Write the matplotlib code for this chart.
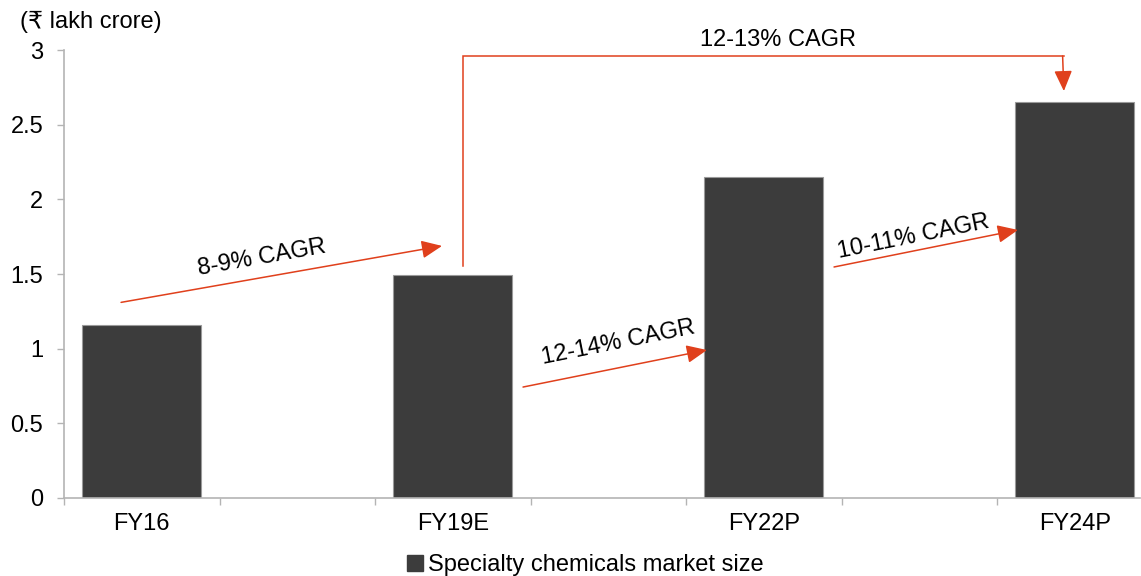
import matplotlib
matplotlib.use("Agg")
import matplotlib.pyplot as plt
from matplotlib.patches import FancyArrowPatch
from matplotlib.lines import Line2D

plt.rcParams['font.family'] = ['Liberation Sans', 'DejaVu Sans']

categories = ["FY16", "", "FY19E", "", "FY22P", "", "FY24P"]
values = [1.16, None, 1.49, None, 2.15, None, 2.65]
y_ticks = [0, 0.5, 1, 1.5, 2, 2.5, 3]
y_tick_labels = ["0", "0.5", "1", "1.5", "2", "2.5", "3"]
cagr_labels = ["8-9% CAGR", "12-14% CAGR", "10-11% CAGR", "12-13% CAGR"]
series_name = "Specialty chemicals market size"
unit_label = "(\u20b9 lakh crore)"

FS = 17
W, H = 1141, 576
fig = plt.figure(figsize=(W / 100, H / 100), dpi=100)
ax_l, ax_r, ax_b, ax_t = 64, 1140, 498, 50
ax = fig.add_axes([ax_l / W, 1 - ax_b / H, (ax_r - ax_l) / W, (ax_b - ax_t) / H])

bar_color = "#3c3c3c"
orange = "#e0401c"
grey = "#b4b4b4"

xs = [i for i, v in enumerate(values) if v is not None]
vs = [v for v in values if v is not None]
ax.bar(xs, vs, width=0.765, color=bar_color, edgecolor="#9a9a9a", linewidth=0.8, zorder=2)

ax.set_xlim(-0.5, -0.5 + (ax_r - ax_l) / 155.5)
ax.set_ylim(0, 3)
ax.set_yticks(y_ticks)
ax.set_yticklabels(y_tick_labels, fontsize=FS)
ax.set_xticks([i + 0.5 for i in range(-1, 6)])
ax.set_xticklabels([])
ax.tick_params(axis='y', direction='out', length=5, color=grey, width=1, pad=10)
ax.tick_params(axis='x', direction='out', length=5, color=grey, width=1)
for i, c in enumerate(categories):
    if c:
        ax.text(i, -0.1, c, ha='center', va='top', fontsize=FS)

for s in ['top', 'right']:
    ax.spines[s].set_visible(False)
for s in ['left', 'bottom']:
    ax.spines[s].set_color(grey)
    ax.spines[s].set_linewidth(1.2)

LW = 1.1

def arrow(p0, p1):
    a = FancyArrowPatch(p0, p1, arrowstyle="-|>,head_length=1.25,head_width=0.55",
                        mutation_scale=10, color=orange, lw=LW, zorder=3,
                        shrinkA=0, shrinkB=0)
    ax.add_patch(a)

arrow((-0.133, 1.31), (1.931, 1.688))
arrow((2.452, 0.743), (3.635, 0.991))
arrow((4.452, 1.547), (5.635, 1.795))

ax.plot([2.066, 2.066, 5.93], [1.554, 2.96, 2.96], color=orange, lw=LW, zorder=3,
        clip_on=False, solid_joinstyle='miter')
arrow((5.922, 2.96), (5.93, 2.725))

ax.text(0.773, 1.607, cagr_labels[0], rotation=10, ha='center', va='center', fontsize=FS,
        rotation_mode='anchor')
ax.text(3.063, 1.038, cagr_labels[1], rotation=11.4, ha='center', va='center', fontsize=FS,
        rotation_mode='anchor')
ax.text(4.96, 1.748, cagr_labels[2], rotation=11.4, ha='center', va='center', fontsize=FS,
        rotation_mode='anchor')
ax.text(4.09, 3.067, cagr_labels[3], ha='center', va='center', fontsize=FS, clip_on=False)

fig.text(20 / W, 1 - 22 / H, unit_label, ha='left', va='center', fontsize=FS)

handle = Line2D([], [], marker='s', linestyle='none', markersize=11, color=bar_color,
                markeredgecolor=bar_color)
fig.legend([handle], [series_name], loc='center', bbox_to_anchor=(584 / W, 1 - 565 / H),
           frameon=False, fontsize=FS, handletextpad=0.1, borderpad=0, handlelength=0.9)

fig.savefig("out.png", dpi=100)
